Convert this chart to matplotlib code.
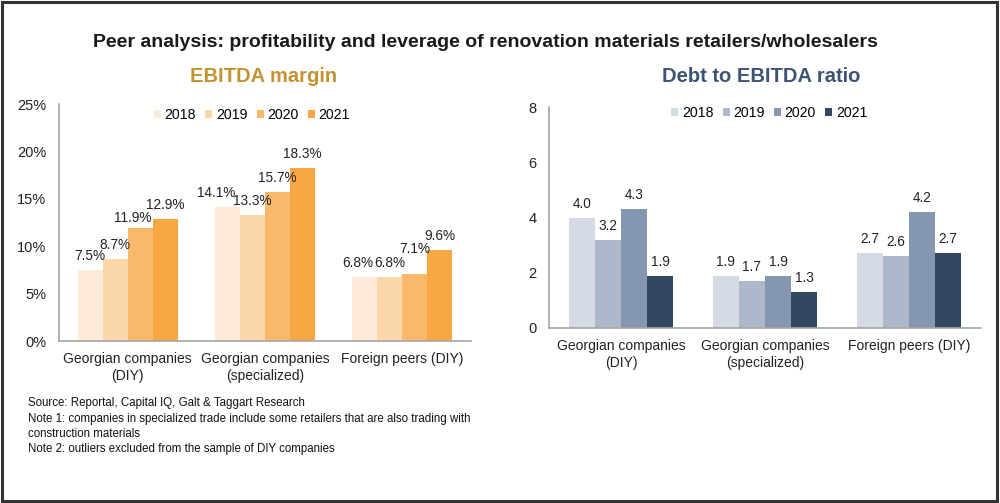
import matplotlib
matplotlib.use("Agg")
import matplotlib.pyplot as plt
import numpy as np
from matplotlib.patches import Rectangle

plt.rcParams['font.family'] = ['Liberation Sans', 'DejaVu Sans']

categories = ["Georgian companies\n(DIY)", "Georgian companies\n(specialized)", "Foreign peers (DIY)"]
years = ["2018", "2019", "2020", "2021"]
ebitda_margin = {
    "2018": [7.5, 14.1, 6.8],
    "2019": [8.7, 13.3, 6.8],
    "2020": [11.9, 15.7, 7.1],
    "2021": [12.9, 18.3, 9.6],
}
debt_to_ebitda = {
    "2018": [4.0, 1.9, 2.7],
    "2019": [3.2, 1.7, 2.6],
    "2020": [4.3, 1.9, 4.2],
    "2021": [1.9, 1.3, 2.7],
}
orange_colors = ["#FDEBD8", "#FCD7AA", "#FAB96A", "#F7A845"]
blue_colors = ["#D5DBE5", "#ADB9CA", "#8496B0", "#344760"]

# label nudges (points) for crowded labels: (year index, category index) -> (dx, dy)
margin_nudges = {(0, 1): (-8, 0), (0, 2): (-5, 0), (2, 0): (-5, -3), (2, 2): (0, 8)}

fig = plt.figure(figsize=(10, 5.03), dpi=100)
fig.patch.set_facecolor("white")

# border
fig.add_artist(Rectangle((0.002, 0.004), 0.995, 0.992, transform=fig.transFigure,
                         fill=False, edgecolor="#333333", linewidth=2.2))

fig.text(0.485, 0.915, "Peer analysis: profitability and leverage of renovation materials retailers/wholesalers",
         ha="center", va="center", fontsize=14, fontweight="bold", color="#1a1a1a")
fig.text(0.264, 0.848, "EBITDA margin", ha="center", va="center", fontsize=14.5,
         fontweight="bold", color="#C39331")
fig.text(0.761, 0.848, "Debt to EBITDA ratio", ha="center", va="center", fontsize=14.5,
         fontweight="bold", color="#3E5474")

def draw(ax, data, colors, ylim, yticks, fmt, ticklabels, leg_xy, nudges):
    x = np.arange(len(categories))
    w = 0.182
    for i, y in enumerate(years):
        vals = data[y]
        pos = x + (i - 1.5) * w
        bars = ax.bar(pos, vals, width=w, color=colors[i], label=y, edgecolor="none")
        for j, (b, v) in enumerate(zip(bars, vals)):
            dx, dy = nudges.get((i, j), (0, 0))
            ax.annotate(fmt(v), (b.get_x() + b.get_width() / 2, v), xytext=(dx, 5 + dy),
                        textcoords="offset points", ha="center", va="bottom",
                        fontsize=9.8, color="#222222")
    ax.set_xlim(-0.5, len(categories) - 0.5)
    ax.set_ylim(*ylim)
    ax.set_yticks(yticks)
    ax.set_yticklabels(ticklabels, fontsize=10.5, color="#222222")
    ax.set_xticks(x)
    ax.set_xticklabels(categories, fontsize=10, color="#222222", linespacing=1.25)
    ax.tick_params(axis="x", length=0, pad=8)
    ax.tick_params(axis="y", length=0, pad=9)
    for s in ["top", "right"]:
        ax.spines[s].set_visible(False)
    for s in ["left", "bottom"]:
        ax.spines[s].set_color("#A6A6A6")
        ax.spines[s].set_linewidth(1.2)
    ax.legend(loc="center", bbox_to_anchor=leg_xy, ncol=4, frameon=False,
              fontsize=10.2, handlelength=0.5, handleheight=0.5, handletextpad=0.25,
              columnspacing=0.65)
    return ax

ax1 = fig.add_axes([0.059, 0.322, 0.412, 0.471])
draw(ax1, ebitda_margin, orange_colors, (0, 25), [0, 5, 10, 15, 20, 25],
     lambda v: f"{v:.1f}%", [f"{t}%" for t in [0, 5, 10, 15, 20, 25]], (0.468, 0.955), margin_nudges)

ax2 = fig.add_axes([0.549, 0.348, 0.432, 0.439])
draw(ax2, debt_to_ebitda, blue_colors, (0, 8), [0, 2, 4, 6, 8],
     lambda v: f"{v:.1f}", [str(t) for t in [0, 2, 4, 6, 8]], (0.51, 0.975), {})

notes = ("Source: Reportal, Capital IQ, Galt & Taggart Research\n"
         "Note 1: companies in specialized trade include some retailers that are also trading with\n"
         "construction materials\n"
         "Note 2: outliers excluded from the sample of DIY companies")
fig.text(0.028, 0.21, notes, ha="left", va="top", fontsize=8.3, color="#111111", linespacing=1.37)

fig.savefig("out.png", dpi=100)
